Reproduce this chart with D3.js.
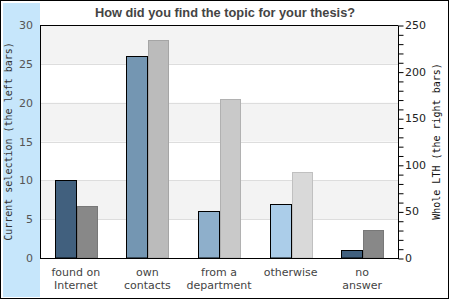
<!DOCTYPE html>
<html><head><meta charset="utf-8">
<script src="https://cdn.jsdelivr.net/npm/d3@7"></script>
<style>body{margin:0;background:#fff}svg{display:block}</style>
</head><body><svg id="c" width="450" height="300"></svg>
<script>
const categories = [["found on","Internet"],["own","contacts"],["from a","department"],["otherwise"],["no","answer"]];
const leftValues = [10, 26, 6, 7, 1];
const rightValues = [56, 234, 171, 92, 30];
const leftColors = ["#41607e","#7496b2","#8eafcb","#abcde9","#41607e"];
const rightColors = ["#888888","#bbbbbb","#c9c9c9","#d9d9d9","#888888"];
const leftTicks = [0,5,10,15,20,25,30];
const rightTicks = [0,50,100,150,200,250];
const title = "How did you find the topic for your thesis?";
const leftLabel = "Current selection (the left bars)";
const rightLabel = "Whole LTH (the right bars)";

const svg = d3.select("#c");
const L=40,R=398,T=25,B=258;
svg.append("rect").attr("x",0.5).attr("y",0.5).attr("width",448).attr("height",298).attr("fill","#fff").attr("stroke","#000");
svg.append("rect").attr("x",3).attr("y",3).attr("width",37).attr("height",294).attr("fill","#c6e6fb");

const yL = d3.scaleLinear().domain([0,30]).range([B,T]);
const yR = d3.scaleLinear().domain([0,250]).range([B,T]);
const x = d3.scaleBand().domain(d3.range(categories.length)).range([L,R]);

// bands
for(let i=0;i<leftTicks.length-1;i++){
  if(i%2===1) svg.append("rect").attr("x",L).attr("y",yL(leftTicks[i+1])).attr("width",R-L).attr("height",yL(leftTicks[i])-yL(leftTicks[i+1])).attr("fill","#f3f3f3");
}
leftTicks.slice(1,-1).forEach(t=>svg.append("line").attr("x1",L).attr("x2",R).attr("y1",Math.round(yL(t))+0.5).attr("y2",Math.round(yL(t))+0.5).attr("stroke","#dddddd"));

const bw=21;
categories.forEach((c,i)=>{
  const cx = x(i)+x.bandwidth()/2;
  svg.append("rect").attr("x",Math.round(cx)+1.5).attr("y",Math.round(yR(rightValues[i]))+0.5).attr("width",bw-1).attr("height",B-Math.round(yR(rightValues[i]))-0.5)
    .attr("fill",rightColors[i]).attr("stroke",d3.color(rightColors[i]).darker(0.35));
  svg.append("rect").attr("x",Math.round(cx)-bw+0.5).attr("y",Math.round(yL(leftValues[i]))+0.5).attr("width",bw).attr("height",B-Math.round(yL(leftValues[i]))-0.5)
    .attr("fill",leftColors[i]).attr("stroke","#000");
  const t = svg.append("text").attr("x",cx).attr("y",276).attr("text-anchor","middle").attr("font-family","DejaVu Sans").attr("font-size",11).attr("fill","#444");
  c.forEach((s,j)=>t.append("tspan").attr("x",cx).attr("dy",j?12.5:0).text(s));
});

// frame lines
svg.append("line").attr("x1",L).attr("x2",R).attr("y1",T+0.5).attr("y2",T+0.5).attr("stroke","#000");
svg.append("line").attr("x1",L).attr("x2",R+1).attr("y1",B+0.5).attr("y2",B+0.5).attr("stroke","#000");
svg.append("line").attr("x1",L+0.5).attr("x2",L+0.5).attr("y1",T).attr("y2",B+1).attr("stroke","#000");

const ra = svg.append("g").attr("transform",`translate(${R+0.5},0.5)`)
  .call(d3.axisRight(yR).tickValues(d3.range(0,251,10)).tickSize(5).tickFormat(""));
ra.selectAll("path,line").attr("stroke","#000");
ra.select("path").attr("d",`M0,${T}V${B}`);
rightTicks.forEach(t=>svg.append("text").attr("x",405).attr("y",yR(t)+4).attr("font-family","DejaVu Sans").attr("font-size",11).attr("fill","#222").text(t));
leftTicks.forEach(t=>svg.append("text").attr("x",33).attr("y",yL(t)+4).attr("text-anchor","end").attr("font-family","DejaVu Sans").attr("font-size",11).attr("fill","#555").text(t));

svg.append("text").attr("x",225).attr("y",16.5).attr("text-anchor","middle").attr("font-family","Liberation Sans, Arial").attr("font-weight","bold").attr("font-size",12.8).attr("fill","#444").text(title);
svg.append("text").attr("transform",`translate(12,${(T+B)/2}) rotate(-90)`).attr("text-anchor","middle").attr("font-family","DejaVu Sans Mono").attr("font-size",10).attr("fill","#333").text(leftLabel);
svg.append("text").attr("transform",`translate(440,${(T+B)/2}) rotate(-90)`).attr("text-anchor","middle").attr("font-family","DejaVu Sans Mono").attr("font-size",10).attr("fill","#111").text(rightLabel);
</script></body></html>
